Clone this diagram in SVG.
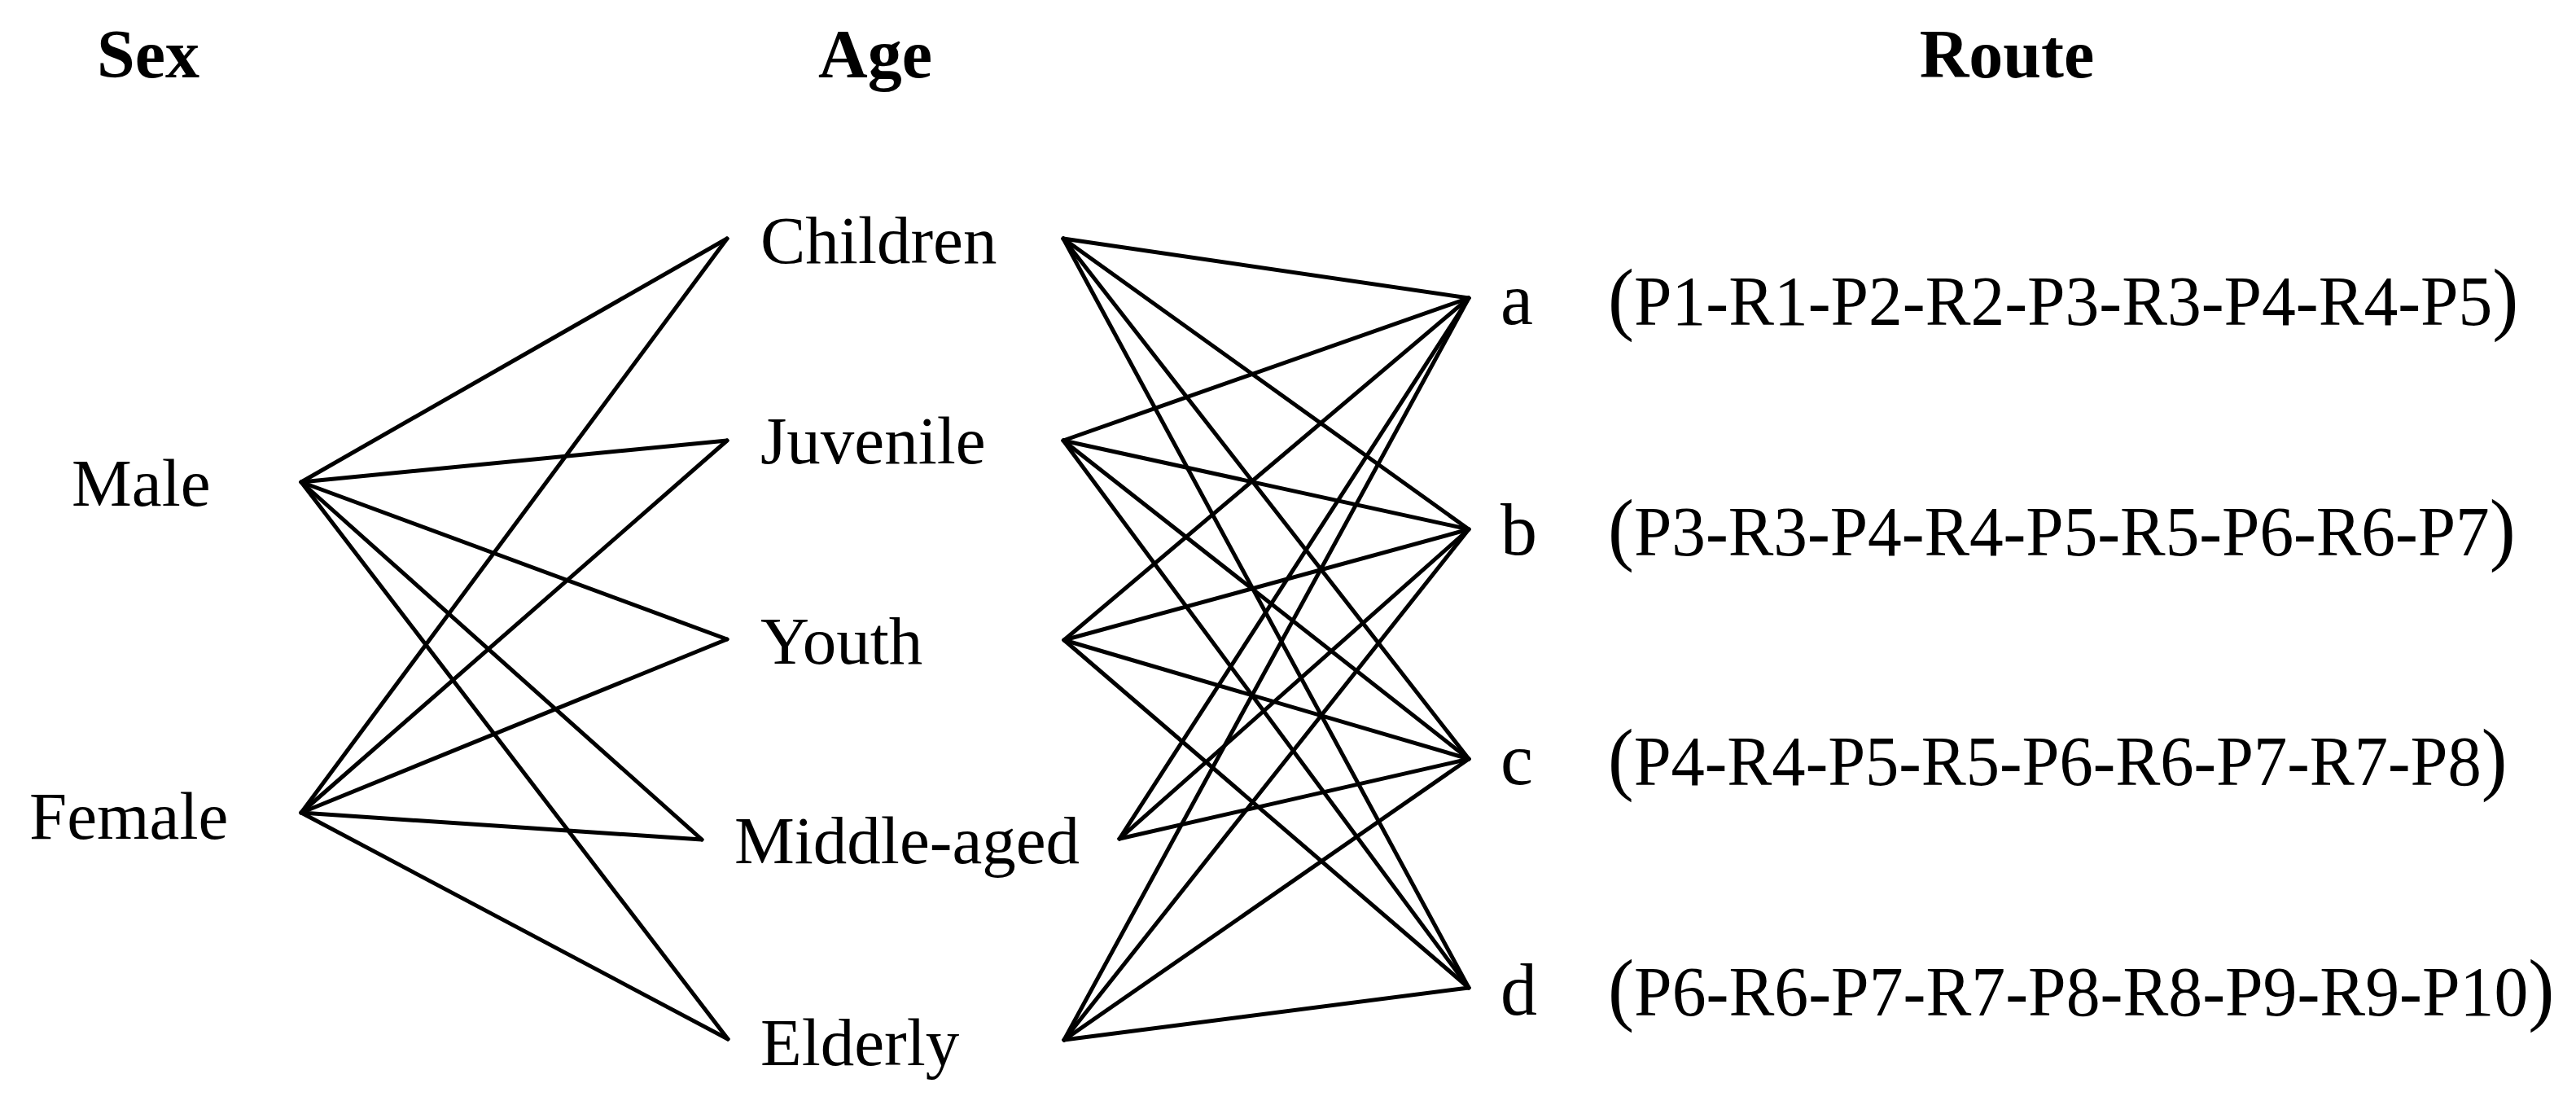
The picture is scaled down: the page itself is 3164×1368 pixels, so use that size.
<svg xmlns="http://www.w3.org/2000/svg" width="3164" height="1368" viewBox="0 0 3164 1368">
<style>
.hd{font-family:"Liberation Serif","Times New Roman",serif;font-weight:bold;font-size:84px;fill:#000;text-anchor:middle}
.lb{font-family:"Liberation Serif","Times New Roman",serif;font-size:83px;fill:#000}
.rl{font-family:"Liberation Serif","Times New Roman",serif;font-size:90px;fill:#000}
.rt{font-family:"Liberation Serif","Times New Roman",serif;font-size:86px;fill:#000}
.pr{font-size:99px}
.cn line{stroke:#000;stroke-width:5;stroke-linecap:round}
</style>
<rect width="3164" height="1368" fill="#fff"/>
<g id="headers">
<text class="hd" x="182" y="95">Sex</text>
<text class="hd" x="1075" y="95">Age</text>
<text class="hd" x="2465" y="95">Route</text>
</g>
<g id="connectors" class="cn">
<line x1="370" y1="592" x2="893" y2="293"/>
<line x1="370" y1="592" x2="893" y2="541"/>
<line x1="370" y1="592" x2="893" y2="785"/>
<line x1="370" y1="592" x2="862" y2="1031"/>
<line x1="370" y1="592" x2="894" y2="1276"/>
<line x1="370" y1="998" x2="893" y2="293"/>
<line x1="370" y1="998" x2="893" y2="541"/>
<line x1="370" y1="998" x2="893" y2="785"/>
<line x1="370" y1="998" x2="862" y2="1031"/>
<line x1="370" y1="998" x2="894" y2="1276"/>
<line x1="1306" y1="293" x2="1804" y2="366"/>
<line x1="1306" y1="293" x2="1804" y2="650"/>
<line x1="1306" y1="293" x2="1804" y2="932"/>
<line x1="1306" y1="293" x2="1804" y2="1213"/>
<line x1="1306" y1="541" x2="1804" y2="366"/>
<line x1="1306" y1="541" x2="1804" y2="650"/>
<line x1="1306" y1="541" x2="1804" y2="932"/>
<line x1="1306" y1="541" x2="1804" y2="1213"/>
<line x1="1307" y1="786" x2="1804" y2="366"/>
<line x1="1307" y1="786" x2="1804" y2="650"/>
<line x1="1307" y1="786" x2="1804" y2="932"/>
<line x1="1307" y1="786" x2="1804" y2="1213"/>
<line x1="1375" y1="1030" x2="1804" y2="366"/>
<line x1="1375" y1="1030" x2="1804" y2="650"/>
<line x1="1375" y1="1030" x2="1804" y2="932"/>
<line x1="1307" y1="1277" x2="1804" y2="366"/>
<line x1="1307" y1="1277" x2="1804" y2="650"/>
<line x1="1307" y1="1277" x2="1804" y2="932"/>
<line x1="1307" y1="1277" x2="1804" y2="1213"/>
</g>
<g id="male"><text class="lb" x="88" y="621">Male</text></g>
<g id="female"><text class="lb" x="36" y="1030">Female</text></g>
<g id="children"><text class="lb" x="934" y="323">Children</text></g>
<g id="juvenile"><text class="lb" x="934" y="569">Juvenile</text></g>
<g id="youth"><text class="lb" x="934" y="815">Youth</text></g>
<g id="middle-aged"><text class="lb" x="902" y="1060">Middle-aged</text></g>
<g id="elderly"><text class="lb" x="934" y="1308">Elderly</text></g>
<g id="route-a">
<text class="rl" x="1843" y="398">a</text>
<text class="rt" transform="translate(1975,399) scale(0.972,1)"><tspan class="pr">(</tspan>P1-R1-P2-R2-P3-R3-P4-R4-P5<tspan class="pr">)</tspan></text>
</g>
<g id="route-b">
<text class="rl" x="1843" y="681">b</text>
<text class="rt" transform="translate(1975,682) scale(0.969,1)"><tspan class="pr">(</tspan>P3-R3-P4-R4-P5-R5-P6-R6-P7<tspan class="pr">)</tspan></text>
</g>
<g id="route-c">
<text class="rl" x="1843" y="963">c</text>
<text class="rt" transform="translate(1975,964) scale(0.96,1)"><tspan class="pr">(</tspan>P4-R4-P5-R5-P6-R6-P7-R7-P8<tspan class="pr">)</tspan></text>
</g>
<g id="route-d">
<text class="rl" x="1843" y="1246">d</text>
<text class="rt" transform="translate(1975,1247) scale(0.974,1)"><tspan class="pr">(</tspan>P6-R6-P7-R7-P8-R8-P9-R9-P10<tspan class="pr">)</tspan></text>
</g>
</svg>
